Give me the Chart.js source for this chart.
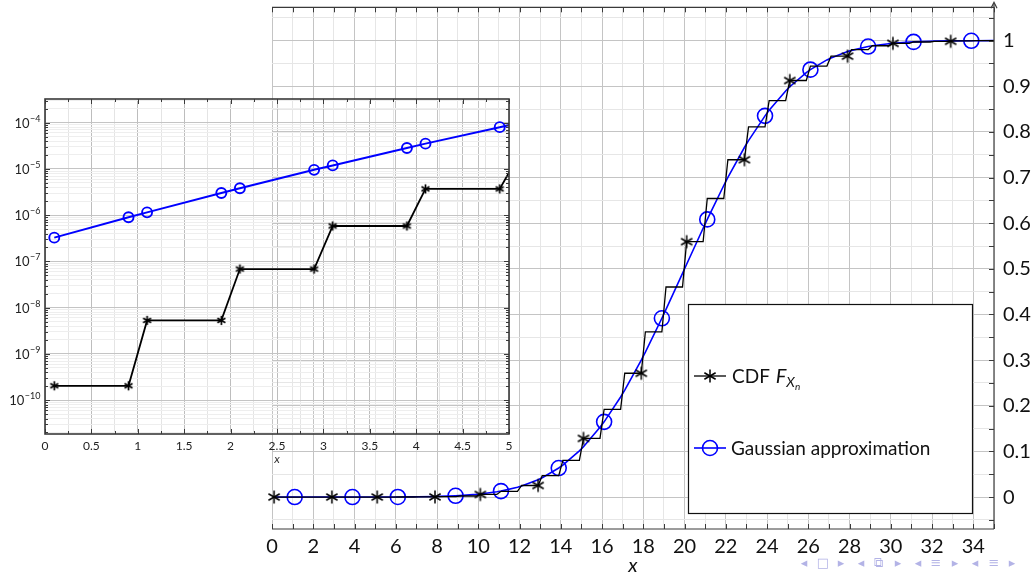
<!DOCTYPE html>
<html>
<head>
<meta charset="utf-8">
<script src="https://cdn.jsdelivr.net/npm/chart.js@4.4.1/dist/chart.umd.min.js"></script>
<style>
  html, body { margin: 0; padding: 0; background: #fff; }
  #wrap { position: relative; width: 1035px; height: 574px; overflow: hidden; }
  #main { position: absolute; left: 0; top: 0; }
  #inset { position: absolute; left: 0; top: 90px; }
  .nav { position: absolute; top: 555px; font: 13px "DejaVu Sans", sans-serif; color: #b3b3e6; transform: translateX(-50%); }
</style>
</head>
<body>
<div id="wrap">
  <canvas id="main" width="1035" height="574"></canvas>
  <canvas id="inset" width="520" height="380"></canvas>
</div>
<script>
// Sample abscissae: every integer k is bracketed at k-0.1 and k+0.1
const sampleX = [
  0.1, 0.9, 1.1, 1.9, 2.1, 2.9, 3.1, 3.9, 4.1, 4.9,
  5.1, 5.9, 6.1, 6.9, 7.1, 7.9, 8.1, 8.9, 9.1, 9.9,
  10.1, 10.9, 11.1, 11.9, 12.1, 12.9, 13.1, 13.9, 14.1, 14.9,
  15.1, 15.9, 16.1, 16.9, 17.1, 17.9, 18.1, 18.9, 19.1, 19.9,
  20.1, 20.9, 21.1, 21.9, 22.1, 22.9, 23.1, 23.9, 24.1, 24.9,
  25.1, 25.9, 26.1, 26.9, 27.1, 27.9, 28.1, 28.9, 29.1, 29.9,
  30.1, 30.9, 31.1, 31.9, 32.1, 32.9, 33.1, 33.9, 34.1, 34.9,
  35.1
];

// CDF level F(k) held on each unit interval [k, k+1), k = 0..35
const cdfLevels = [
  2.04e-10, 5.30e-9, 6.83e-8, 5.83e-7, 3.70e-6, 1.87e-5, 7.80e-5, 2.77e-4, 8.56e-4, 2.33e-3,
  5.70e-3, 1.258e-2, 2.533e-2, 4.692e-2, 8.045e-2, 0.1285, 0.1923, 0.2712, 0.3621, 0.4602,
  0.5595, 0.6541, 0.7390, 0.8110, 0.8687, 0.9126, 0.9442, 0.9659, 0.9801, 0.9888,
  0.9940, 0.9970, 0.9985, 0.9994, 0.9998, 0.9999
];

// Gaussian approximation at each sample abscissa
const gaussValues = [
  3.26e-7, 8.98e-7, 1.15e-6, 3.02e-6, 3.82e-6, 9.55e-6, 1.19e-5, 2.84e-5, 3.52e-5, 8.00e-5,
  9.77e-5, 2.12e-4, 2.55e-4, 5.29e-4, 6.30e-4, 1.243e-3, 1.465e-3, 2.76e-3, 3.21e-3, 5.78e-3,
  6.66e-3, 1.145e-2, 1.304e-2, 2.143e-2, 2.413e-2, 3.795e-2, 4.227e-2, 6.363e-2, 7.011e-2, 0.1012,
  0.1103, 0.1527, 0.1648, 0.2192, 0.2342, 0.2998, 0.3174, 0.3917, 0.4110, 0.4900,
  0.5100, 0.5890, 0.6083, 0.6826, 0.7002, 0.7658, 0.7808, 0.8352, 0.8473, 0.8897,
  0.8989, 0.9299, 0.9364, 0.9577, 0.9621, 0.9759, 0.9786, 0.9870, 0.9886, 0.9933,
  0.9942, 0.9968, 0.9972, 0.9985, 0.9988, 0.9994, 0.9995, 0.9997, 0.9998, 0.9999,
  0.9999
];

// Axis labels
const mainXTickLabels = [0, 2, 4, 6, 8, 10, 12, 14, 16, 18, 20, 22, 24, 26, 28, 30, 32, 34];
const mainYTickLabels = [0, 0.1, 0.2, 0.3, 0.4, 0.5, 0.6, 0.7, 0.8, 0.9, 1];
const insetXTickLabels = [0, 0.5, 1, 1.5, 2, 2.5, 3, 3.5, 4, 4.5, 5];
const insetDecades = [-10, -9, -8, -7, -6, -5, -4];

const legendLabels = ['CDF', 'Gaussian approximation'];

// Point tables built from the arrays above
const cdfPoints = sampleX.map(x => ({ x: x, y: cdfLevels[Math.floor(x)] }));
const gaussPoints = sampleX.map((x, i) => ({ x: x, y: gaussValues[i] }));

const FONT = 'Lato, "Open Sans", "DejaVu Sans", sans-serif';
const AXIS_COLOR = '#3a3a3a';
const BLUE = '#0000ff';

// Six-spoked asterisk marker
function makeAsterisk(r, lw) {
  const s = Math.ceil(2 * r + 2 * lw + 2);
  const c = document.createElement('canvas');
  c.width = s; c.height = s;
  const g = c.getContext('2d');
  g.strokeStyle = '#000';
  g.lineWidth = lw;
  g.lineCap = 'butt';
  g.translate(s / 2, s / 2);
  [90, 30, 150].forEach(a => {
    const t = a * Math.PI / 180;
    g.beginPath();
    g.moveTo(-r * Math.cos(t), -r * Math.sin(t));
    g.lineTo(r * Math.cos(t), r * Math.sin(t));
    g.stroke();
  });
  return c;
}
const starMain = makeAsterisk(6.5, 1.5);
const starInset = makeAsterisk(4.6, 1.7);

const isMultiple = (v, step) => Math.abs(v / step - Math.round(v / step)) < 1e-6;

// Keep the plot area exactly where the layout padding puts it
function noScalePadding(s) {
  s.paddingTop = 0; s.paddingBottom = 0; s.paddingLeft = 0; s.paddingRight = 0;
}

// Frame, inward ticks and legend of the main plot
const mainFrame = {
  id: 'mainFrame',
  afterDraw(chart) {
    const { ctx, chartArea: a, scales: { x, y } } = chart;
    ctx.save();
    ctx.strokeStyle = AXIS_COLOR;
    ctx.lineWidth = 1.2;
    ctx.beginPath();
    ctx.moveTo(a.left, a.top); ctx.lineTo(a.right, a.top);
    ctx.moveTo(a.left, a.bottom); ctx.lineTo(a.right, a.bottom);
    ctx.moveTo(a.right, a.top - 4); ctx.lineTo(a.right, a.bottom);
    ctx.stroke();
    // arrow tip on the right axis
    ctx.beginPath();
    ctx.moveTo(a.right - 3, a.top + 1); ctx.lineTo(a.right, a.top - 5); ctx.lineTo(a.right + 3, a.top + 1);
    ctx.stroke();
    // inward ticks
    ctx.lineWidth = 1;
    ctx.beginPath();
    x.ticks.forEach(t => {
      const px = Math.round(x.getPixelForValue(t.value)) + 0.5;
      ctx.moveTo(px, a.bottom); ctx.lineTo(px, a.bottom - 5);
      ctx.moveTo(px, a.top); ctx.lineTo(px, a.top + 5);
    });
    y.ticks.forEach(t => {
      const py = Math.round(y.getPixelForValue(t.value)) + 0.5;
      ctx.moveTo(a.right, py); ctx.lineTo(a.right - 5, py);
    });
    ctx.stroke();

    // legend box
    const L = 688, T = 304, R = 972, B = 513;
    ctx.fillStyle = '#fff';
    ctx.fillRect(L, T, R - L, B - T);
    ctx.strokeStyle = '#111';
    ctx.lineWidth = 1.2;
    ctx.strokeRect(L + 0.5, T + 0.5, R - L, B - T);

    const rows = [376, 448];
    // sample: CDF
    ctx.strokeStyle = '#000';
    ctx.lineWidth = 1.3;
    ctx.beginPath(); ctx.moveTo(694, rows[0]); ctx.lineTo(726, rows[0]); ctx.stroke();
    ctx.drawImage(starMain, 710 - starMain.width / 2, rows[0] - starMain.height / 2);
    // sample: Gaussian
    ctx.strokeStyle = BLUE;
    ctx.lineWidth = 1.6;
    ctx.beginPath(); ctx.moveTo(694, rows[1]); ctx.lineTo(726, rows[1]); ctx.stroke();
    ctx.beginPath(); ctx.arc(710, rows[1], 7.5, 0, Math.PI * 2); ctx.stroke();

    ctx.fillStyle = '#111';
    ctx.textBaseline = 'alphabetic';
    ctx.textAlign = 'left';
    ctx.font = '19px ' + FONT;
    let tx = 732;
    const b0 = rows[0] + 7;
    ctx.fillText(legendLabels[0] + ' ', tx, b0);
    tx += ctx.measureText(legendLabels[0] + ' ').width + 1;
    ctx.font = 'italic 20px ' + FONT;
    ctx.fillText('F', tx, b0);
    tx += ctx.measureText('F').width;
    ctx.font = 'italic 14px ' + FONT;
    ctx.fillText('X', tx, b0 + 4);
    tx += ctx.measureText('X').width;
    ctx.font = 'italic 10px ' + FONT;
    ctx.fillText('n', tx, b0 + 7);
    ctx.font = '19px ' + FONT;
    ctx.fillText(legendLabels[1], 731, rows[1] + 7);
    ctx.restore();
  }
};

new Chart(document.getElementById('main'), {
  type: 'line',
  data: {
    datasets: [
      {
        label: 'CDF',
        data: cdfPoints,
        borderColor: '#000',
        borderWidth: 1.3,
        tension: 0,
        fill: false,
        pointStyle: starMain,
        pointRadius: c => (c.dataIndex % 5 === 0 && c.raw.x < 35) ? 6 : 0,
        clip: { left: 10, top: 10, right: 0, bottom: 0 }
      },
      {
        label: 'Gaussian approximation',
        data: gaussPoints,
        borderColor: BLUE,
        borderWidth: 1.6,
        tension: 0,
        fill: false,
        pointStyle: 'circle',
        pointRadius: c => (c.dataIndex % 5 === 2 && c.raw.x < 35) ? 7.5 : 0,
        pointBorderColor: BLUE,
        pointBorderWidth: 1.6,
        pointBackgroundColor: 'rgba(0,0,0,0)',
        clip: { left: 10, top: 10, right: 0, bottom: 0 }
      }
    ]
  },
  options: {
    responsive: false,
    animation: false,
    devicePixelRatio: 1,
    layout: { padding: { left: 272, top: 7, right: 0, bottom: 0 } },
    plugins: { legend: { display: false }, tooltip: { enabled: false } },
    scales: {
      x: {
        type: 'linear',
        position: 'bottom',
        min: 0,
        max: 35,
        afterFit: s => { s.height = 45; noScalePadding(s); },
        border: { display: false },
        grid: {
          drawTicks: false,
          lineWidth: 1,
          color: c => isMultiple(c.tick.value, 2) ? '#c4c4c4' : '#e6e6e6'
        },
        ticks: {
          stepSize: 1,
          autoSkip: false,
          maxRotation: 0,
          padding: 6,
          color: '#111',
          font: { family: FONT, size: 20 },
          callback: v => mainXTickLabels.includes(v) ? String(v) : ''
        },
        title: {
          display: true,
          text: 'x',
          color: '#111',
          font: { family: FONT, size: 20, style: 'italic', lineHeight: 0.8 },
          padding: { top: 0, bottom: 0 }
        }
      },
      y: {
        type: 'linear',
        position: 'right',
        min: -0.07,
        max: 1.073,
        afterFit: s => { s.width = 41; noScalePadding(s); },
        afterBuildTicks: s => {
          const vals = [];
          for (let k = -1; k <= 21; k++) vals.push(Math.round(k * 5) / 100);
          s.ticks = vals.map(v => ({ value: v }));
        },
        border: { display: false },
        grid: {
          drawTicks: false,
          lineWidth: 1,
          color: c => isMultiple(c.tick.value, 0.1) ? '#c4c4c4' : '#e6e6e6'
        },
        ticks: {
          autoSkip: false,
          padding: 9,
          color: '#111',
          font: { family: FONT, size: 20 },
          callback: v => mainYTickLabels.some(t => Math.abs(t - v) < 1e-9)
            ? (Math.abs(v) < 1e-9 ? '0' : Math.abs(v - 1) < 1e-9 ? '1' : v.toFixed(1)) : ''
        }
      }
    }
  },
  plugins: [mainFrame]
});

// Inset: lower tail on a logarithmic axis
const isDecade = v => Math.abs(Math.log10(v) - Math.round(Math.log10(v))) < 1e-6;

const insetFrame = {
  id: 'insetFrame',
  afterDraw(chart) {
    const { ctx, chartArea: a, scales: { x, y } } = chart;
    ctx.save();
    ctx.strokeStyle = AXIS_COLOR;
    ctx.lineWidth = 1;
    ctx.beginPath();
    x.ticks.forEach(t => {
      const len = isMultiple(t.value, 0.5) ? 5 : 3;
      const px = Math.round(x.getPixelForValue(t.value)) + 0.5;
      ctx.moveTo(px, a.bottom); ctx.lineTo(px, a.bottom - len);
      ctx.moveTo(px, a.top); ctx.lineTo(px, a.top + len);
    });
    y.ticks.forEach(t => {
      const len = isDecade(t.value) ? 5 : 3;
      const py = Math.round(y.getPixelForValue(t.value)) + 0.5;
      ctx.moveTo(a.left, py); ctx.lineTo(a.left + len, py);
      ctx.moveTo(a.right, py); ctx.lineTo(a.right - len, py);
    });
    ctx.stroke();
    ctx.lineWidth = 1.6;
    ctx.strokeRect(a.left, a.top, a.right - a.left, a.bottom - a.top);

    // decade labels: base 10 with a raised exponent
    ctx.fillStyle = '#222';
    ctx.textBaseline = 'alphabetic';
    ctx.textAlign = 'left';
    insetDecades.forEach(e => {
      const py = y.getPixelForValue(Math.pow(10, e));
      const exp = '\u2212' + String(Math.abs(e));
      ctx.font = '9px ' + FONT;
      const we = ctx.measureText(exp).width;
      ctx.font = '13px ' + FONT;
      const wb = ctx.measureText('10').width;
      const x0 = a.left - 5 - we - wb;
      ctx.fillText('10', x0, py + 5);
      ctx.font = '9px ' + FONT;
      ctx.fillText(exp, x0 + wb + 0.5, py - 1);
    });
    ctx.restore();
  }
};

new Chart(document.getElementById('inset'), {
  type: 'line',
  data: {
    datasets: [
      {
        label: 'CDF',
        data: cdfPoints.filter(p => p.x < 5.5),
        borderColor: '#000',
        borderWidth: 1.8,
        tension: 0,
        fill: false,
        pointStyle: starInset,
        pointRadius: c => c.raw.x < 5 ? 4.5 : 0,
        clip: { left: 8, top: 0, right: 0, bottom: 0 }
      },
      {
        label: 'Gaussian approximation',
        data: gaussPoints.filter(p => p.x < 5.5),
        borderColor: BLUE,
        borderWidth: 2,
        tension: 0,
        fill: false,
        pointStyle: 'circle',
        pointRadius: c => c.raw.x < 5 ? 5 : 0,
        pointBorderColor: BLUE,
        pointBorderWidth: 1.9,
        pointBackgroundColor: 'rgba(0,0,0,0)',
        clip: { left: 8, top: 0, right: 0, bottom: 0 }
      }
    ]
  },
  options: {
    responsive: false,
    animation: false,
    devicePixelRatio: 1,
    layout: { padding: { left: 0, top: 9, right: 11, bottom: 0 } },
    plugins: { legend: { display: false }, tooltip: { enabled: false } },
    scales: {
      x: {
        type: 'linear',
        min: 0,
        max: 5,
        afterFit: s => { s.height = 36; noScalePadding(s); },
        border: { display: false },
        grid: {
          drawTicks: false,
          color: c => isMultiple(c.tick.value, 0.5) ? '#bdbdbd' : '#e4e4e4'
        },
        ticks: {
          stepSize: 0.25,
          autoSkip: false,
          maxRotation: 0,
          padding: 5,
          color: '#222',
          font: { family: FONT, size: 12 },
          callback: v => insetXTickLabels.includes(v) ? String(v) : ''
        },
        title: {
          display: true,
          text: 'x',
          color: '#333',
          font: { family: FONT, size: 12, style: 'italic' },
          padding: { top: 0, bottom: 4 }
        }
      },
      y: {
        type: 'logarithmic',
        min: 1.85e-11,
        max: 3.25e-4,
        afterFit: s => { s.width = 45; noScalePadding(s); },
        afterBuildTicks: s => {
          const vals = [];
          for (let e = insetDecades[0] - 1; e <= insetDecades[insetDecades.length - 1]; e++) {
            for (let m = 1; m <= 9; m++) {
              const v = m * Math.pow(10, e);
              if (v >= s.min && v <= s.max) vals.push(v);
            }
          }
          s.ticks = vals.map(v => ({ value: v }));
        },
        border: { display: false },
        grid: {
          drawTicks: false,
          color: c => isDecade(c.tick.value) ? '#c4c4c4' : '#eeeeee'
        },
        ticks: { display: false }
      }
    }
  },
  plugins: [insetFrame]
});

// Slide navigation glyphs
const navGlyphs = [
  ['\u25C2', 804], ['\u25A1', 823], ['\u25B8', 841],
  ['\u25C2', 861], ['\u29C9', 878], ['\u25B8', 898],
  ['\u25C2', 918], ['\u2261', 936], ['\u25B8', 955],
  ['\u25C2', 975], ['\u2261', 994], ['\u25B8', 1012]
];
const wrap = document.getElementById('wrap');
navGlyphs.forEach(([g, x]) => {
  const s = document.createElement('span');
  s.className = 'nav';
  s.style.left = x + 'px';
  s.textContent = g;
  wrap.appendChild(s);
});
</script>
</body>
</html>
